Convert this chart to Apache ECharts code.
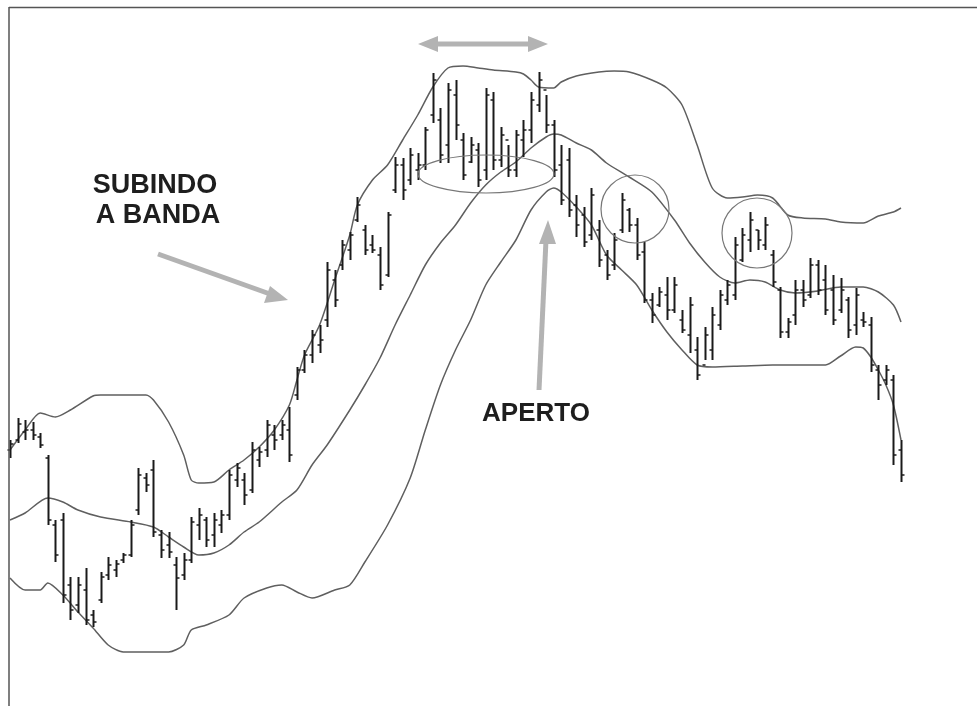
<!DOCTYPE html>
<html>
<head>
<meta charset="utf-8">
<script src="https://cdn.jsdelivr.net/npm/echarts@6/dist/echarts.min.js"></script>
<style>
  html, body { margin: 0; padding: 0; background: #fff; }
  #chart { width: 977px; height: 706px; }
</style>
</head>
<body>
<div id="chart"></div>
<script>
// Daily OHLC prices (one entry per session)
const highs = [
  26.0, 28.2, 28.0, 27.8, 26.7, 24.5, 18.0, 18.7, 12.3, 12.3,
  13.2, 9.0, 12.8, 14.3, 14.0, 14.7, 18.0, 23.2, 22.7, 24.0,
  17.0, 16.8, 14.3, 14.7, 18.3, 19.2, 18.3, 18.7, 19.0, 23.0,
  23.7, 22.7, 25.8, 25.3, 28.0, 27.5, 28.0, 29.3, 33.3, 35.0,
  37.0, 37.5, 43.8, 43.0, 46.0, 46.8, 50.3, 47.5, 46.5, 45.3,
  48.8, 54.3, 54.2, 55.2, 54.7, 57.3, 62.7, 59.2, 61.7, 62.0,
  56.7, 56.3, 55.7, 61.2, 60.8, 57.3, 55.5, 57.0, 58.0, 60.8,
  62.8, 60.5, 58.0, 55.5, 55.2, 50.5, 49.3, 51.2, 48.0, 45.0,
  46.7, 50.7, 49.2, 48.2, 45.8, 40.7, 41.3, 42.3, 42.3, 39.0,
  40.3, 36.3, 37.3, 39.3, 41.0, 42.0, 46.3, 47.2, 48.8, 47.0,
  48.3, 45.0, 41.3, 38.2, 42.0, 42.0, 44.2, 44.0, 43.5, 42.5,
  42.2, 40.3, 41.2, 38.8, 38.3, 33.5, 33.5, 32.5, 26.0
];
const lows = [
  24.2, 25.7, 26.0, 26.0, 25.2, 17.5, 13.8, 9.7, 8.0, 8.7,
  7.5, 7.3, 9.7, 12.0, 12.3, 13.7, 14.3, 18.5, 20.8, 16.3,
  14.2, 14.2, 9.0, 12.0, 13.7, 16.0, 15.3, 15.3, 16.7, 18.0,
  21.3, 19.5, 20.7, 23.3, 24.3, 25.0, 26.0, 23.8, 30.0, 32.7,
  33.7, 34.7, 37.3, 39.3, 43.0, 44.0, 47.8, 44.5, 44.7, 41.0,
  42.3, 50.7, 50.0, 51.5, 52.0, 53.0, 57.7, 53.7, 53.7, 56.0,
  52.0, 53.7, 51.3, 52.0, 53.0, 53.3, 52.3, 52.3, 54.3, 55.7,
  58.8, 56.7, 52.3, 49.5, 48.3, 46.3, 45.3, 46.0, 43.3, 42.0,
  43.0, 46.7, 46.8, 44.0, 39.7, 37.7, 39.3, 38.0, 38.7, 36.7,
  34.7, 32.0, 34.0, 34.0, 37.0, 39.5, 40.0, 43.8, 44.8, 45.0,
  45.0, 41.3, 36.2, 36.2, 37.5, 39.3, 40.2, 40.5, 38.5, 37.5,
  38.7, 36.2, 36.5, 37.3, 32.8, 30.0, 31.5, 23.5, 21.8
];
const opens = [
  25.0, 26.0, 26.8, 27.0, 26.3, 24.2, 17.5, 18.0, 11.5, 9.5,
  11.0, 8.5, 10.0, 12.5, 13.0, 14.0, 14.5, 19.0, 22.2, 23.0,
  16.5, 15.5, 13.5, 12.5, 14.0, 17.5, 18.0, 16.5, 17.5, 18.5,
  22.0, 22.0, 21.0, 24.0, 25.0, 26.5, 26.5, 27.0, 30.5, 33.0,
  34.5, 35.5, 38.0, 42.0, 43.5, 45.0, 48.0, 47.0, 45.5, 44.5,
  42.5, 51.0, 53.5, 52.0, 53.0, 53.5, 58.5, 58.0, 55.5, 60.5,
  56.0, 53.8, 55.0, 53.0, 60.0, 54.0, 56.0, 53.0, 56.0, 57.0,
  59.5, 61.0, 57.5, 53.5, 54.0, 49.5, 48.5, 46.5, 47.0, 44.5,
  43.5, 47.0, 49.0, 47.5, 44.8, 40.0, 39.5, 40.5, 39.0, 38.0,
  36.5, 35.0, 33.5, 35.0, 37.5, 40.0, 40.5, 44.0, 46.0, 47.0,
  45.5, 44.5, 41.0, 36.8, 38.5, 41.0, 40.5, 43.5, 42.0, 41.0,
  39.0, 40.0, 37.5, 38.0, 37.5, 33.0, 32.0, 32.0, 25.0
];
const closes = [
  25.6, 27.6, 27.0, 26.5, 25.5, 18.0, 14.5, 10.5, 9.0, 11.5,
  8.0, 7.8, 12.3, 13.5, 13.6, 14.5, 17.5, 22.5, 21.5, 16.8,
  15.0, 14.8, 12.2, 14.0, 17.8, 18.5, 16.0, 18.0, 18.5, 22.5,
  23.2, 20.5, 25.0, 24.8, 27.5, 26.0, 27.5, 24.5, 33.0, 34.5,
  36.5, 36.0, 43.0, 40.0, 45.5, 46.5, 49.5, 45.0, 45.0, 41.5,
  48.5, 53.5, 51.0, 54.5, 53.5, 57.0, 62.0, 54.5, 61.0, 57.5,
  52.5, 55.5, 52.0, 60.5, 54.0, 56.5, 53.0, 56.5, 57.0, 60.0,
  62.0, 57.5, 53.0, 50.0, 49.0, 47.5, 45.8, 50.5, 44.0, 42.5,
  46.0, 50.0, 47.5, 44.5, 40.0, 38.5, 40.8, 39.0, 41.5, 37.0,
  39.5, 32.5, 36.5, 38.5, 40.5, 41.5, 45.5, 46.5, 48.0, 46.0,
  47.5, 41.8, 36.8, 37.8, 41.0, 40.0, 43.5, 41.0, 39.0, 38.0,
  41.0, 37.0, 40.5, 37.8, 33.5, 31.5, 33.0, 24.5, 22.5
];

// Bollinger bands: [session, price] vertices
const upperBand = [
  [0, 25.0], [2, 27.0], [4, 28.7], [6, 28.3], [8, 29.0], [11, 30.4], [12, 30.5],
  [18, 30.5], [19, 30.0], [21, 27.8], [23, 24.5], [24, 22.0], [25, 21.7], [27, 21.8],
  [29, 23.0], [31, 24.0], [33, 25.3], [35, 27.0], [37, 29.5], [38, 32.0], [39, 34.5],
  [41, 37.5], [43, 42.0], [45, 46.5], [46, 49.5], [48, 52.0], [50, 53.5], [52, 56.0],
  [54, 58.5], [56, 61.3], [58, 63.2], [60, 63.4], [62, 63.2], [64, 63.0], [67, 62.8],
  [68, 62.6], [69, 62.0], [70, 61.3], [72, 61.2], [73, 61.8], [75, 62.4], [78, 62.8],
  [80, 62.9], [82, 62.8], [85, 62.0], [87, 61.2], [89, 59.5], [91, 55.5], [93, 51.2],
  [95, 50.2], [97, 50.3], [99, 50.5], [101, 50.2], [103, 48.5], [105, 48.2], [108, 48.1],
  [110, 47.8], [113, 47.7], [115, 48.4], [117, 48.8], [118, 49.2]
];
const middleBand = [
  [0, 18.0], [2, 18.7], [5, 20.2], [7, 19.8], [9, 19.0], [12, 18.3], [16, 17.8],
  [19, 17.3], [21, 16.3], [23, 15.3], [25, 14.5], [27, 14.7], [29, 15.5], [31, 16.8],
  [33, 17.8], [36, 19.8], [38, 21.0], [40, 23.5], [42, 25.5], [45, 29.0], [47, 31.5],
  [49, 34.2], [51, 37.5], [53, 40.5], [55, 43.5], [57, 45.7], [59, 47.5], [61, 49.7],
  [63, 51.5], [65, 52.8], [67, 53.8], [69, 55.2], [71, 56.3], [72, 56.6], [73, 56.5],
  [75, 55.7], [77, 55.0], [79, 53.7], [82, 52.3], [85, 50.8], [88, 48.0], [90, 45.7],
  [92, 43.8], [94, 42.3], [96, 41.7], [98, 42.0], [100, 41.8], [102, 41.0], [104, 40.7],
  [107, 40.9], [110, 41.3], [113, 41.3], [115, 40.8], [117, 39.5], [118, 37.8]
];
const lowerBand = [
  [0, 12.2], [2, 11.0], [4, 11.0], [5, 11.7], [7, 10.5], [9, 8.8], [11, 7.2],
  [13, 5.5], [15, 4.8], [21, 4.8], [23, 5.5], [24, 7.0], [26, 7.5], [29, 8.5],
  [31, 10.2], [34, 11.2], [36, 11.5], [38, 10.8], [40, 10.2], [43, 11.0], [45, 11.5],
  [47, 13.8], [50, 17.5], [53, 22.2], [55, 27.0], [57, 31.5], [59, 35.0], [61, 38.0],
  [63, 41.5], [65, 43.8], [67, 46.0], [69, 49.0], [71, 50.8], [72, 51.2], [73, 50.8],
  [75, 49.3], [77, 47.5], [79, 44.5], [81, 43.0], [83, 41.5], [85, 39.0], [87, 36.8],
  [89, 35.0], [91, 33.5], [93, 33.3], [97, 33.4], [101, 33.5], [105, 33.5], [108, 33.5],
  [110, 34.4], [112, 35.3], [113, 35.2], [114, 34.3], [115, 33.0], [116, 31.5],
  [117, 29.5], [118, 26.0]
];

const ohlc = highs.map((h, i) => [i, opens[i], closes[i], lows[i], h]);

// Classic OHLC bar: vertical high-low, open tick left, close tick right
function renderBar(params, api) {
  const i = api.value(0);
  const top = api.coord([i, api.value(4)]);
  const bot = api.coord([i, api.value(3)]);
  const o = api.coord([i, api.value(1)]);
  const c = api.coord([i, api.value(2)]);
  const x = Math.round(top[0]) + 0.5;
  const ink = { stroke: '#1a1a1a', lineWidth: 2 };
  return {
    type: 'group',
    children: [
      { type: 'line', shape: { x1: x, y1: top[1], x2: x, y2: bot[1] }, style: ink },
      { type: 'line', shape: { x1: x - 3, y1: o[1], x2: x, y2: o[1] }, style: { stroke: '#1a1a1a', lineWidth: 1.5 } },
      { type: 'line', shape: { x1: x, y1: c[1], x2: x + 3, y2: c[1] }, style: { stroke: '#1a1a1a', lineWidth: 1.5 } }
    ]
  };
}

const bandStyle = { color: '#5f5f5f', width: 1.5 };
function band(name, data) {
  return {
    name, type: 'line', data, showSymbol: false, smooth: 0.25,
    lineStyle: bandStyle, itemStyle: { color: '#5f5f5f' }, silent: true, z: 1
  };
}

const arrowGray = '#b3b3b3';
const annotations = [
  // frame
  { type: 'line', shape: { x1: 9, y1: 7.5, x2: 977, y2: 7.5 }, style: { stroke: '#555', lineWidth: 1.5 } },
  { type: 'line', shape: { x1: 9, y1: 7, x2: 9, y2: 706 }, style: { stroke: '#555', lineWidth: 1.5 } },
  // double arrow over the top
  { type: 'line', shape: { x1: 434, y1: 44, x2: 533, y2: 44 }, style: { stroke: arrowGray, lineWidth: 5 } },
  { type: 'polygon', shape: { points: [[418, 44], [438, 36], [438, 52]] }, style: { fill: arrowGray } },
  { type: 'polygon', shape: { points: [[548, 44], [528, 36], [528, 52]] }, style: { fill: arrowGray } },
  // diagonal arrow
  { type: 'line', shape: { x1: 158, y1: 254, x2: 270, y2: 294 }, style: { stroke: arrowGray, lineWidth: 5 } },
  { type: 'polygon', shape: { points: [[288, 300], [264, 303], [270, 286]] }, style: { fill: arrowGray } },
  // vertical arrow
  { type: 'line', shape: { x1: 539, y1: 390, x2: 546, y2: 240 }, style: { stroke: arrowGray, lineWidth: 5 } },
  { type: 'polygon', shape: { points: [[548, 220], [539, 244], [556, 244]] }, style: { fill: arrowGray } },
  // highlight rings
  { type: 'ellipse', shape: { cx: 486, cy: 174, rx: 68, ry: 19 }, style: { fill: 'none', stroke: '#777', lineWidth: 1.2 } },
  { type: 'circle', shape: { cx: 635, cy: 209, r: 34 }, style: { fill: 'none', stroke: '#777', lineWidth: 1.2 } },
  { type: 'circle', shape: { cx: 757, cy: 233, r: 35 }, style: { fill: 'none', stroke: '#777', lineWidth: 1.2 } },
  // labels
  { type: 'text', x: 155, y: 172, style: { text: 'SUBINDO', fill: '#1e1e1e', font: 'bold 27px "Liberation Sans", Arial, sans-serif', textAlign: 'center' } },
  { type: 'text', x: 158, y: 202, style: { text: 'A BANDA', fill: '#1e1e1e', font: 'bold 27px "Liberation Sans", Arial, sans-serif', textAlign: 'center' } },
  { type: 'text', x: 536, y: 401, style: { text: 'APERTO', fill: '#1e1e1e', font: 'bold 26px "Liberation Sans", Arial, sans-serif', textAlign: 'center' } }
];

const chart = echarts.init(document.getElementById('chart'), null, { renderer: 'canvas' });
chart.setOption({
  animation: false,
  backgroundColor: '#fff',
  grid: { left: 10, right: 76, top: 0, bottom: 6 },
  xAxis: { type: 'value', min: 0, max: 118, show: false },
  yAxis: { type: 'value', min: 0, max: 70, show: false },
  series: [
    band('Banda superior', upperBand),
    band('Média', middleBand),
    band('Banda inferior', lowerBand),
    {
      name: 'Preço', type: 'custom', renderItem: renderBar, data: ohlc,
      encode: { x: 0, y: [1, 2, 3, 4] }, z: 3, silent: true
    }
  ],
  graphic: annotations.map(g => Object.assign({ z: 10, silent: true }, g))
});
</script>
</body>
</html>
